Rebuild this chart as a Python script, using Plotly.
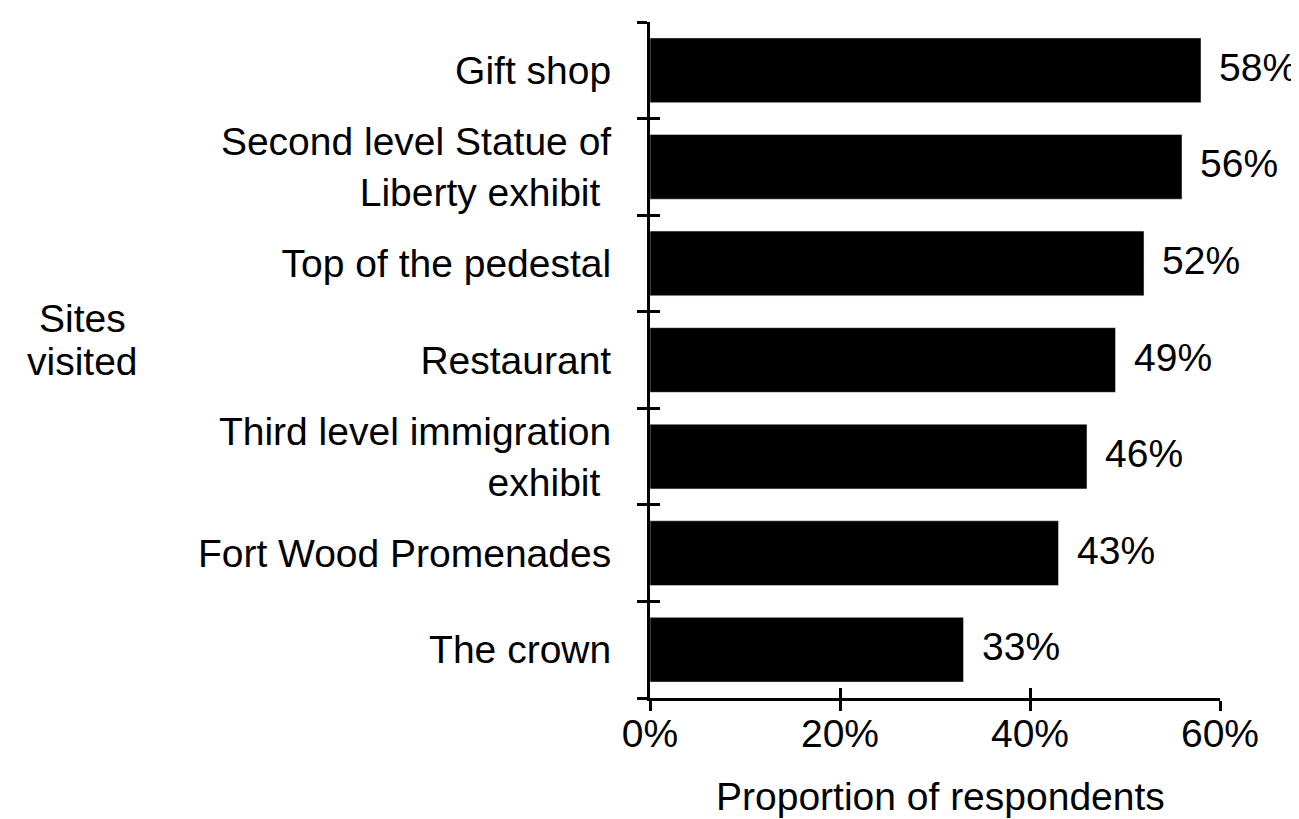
import plotly.graph_objects as go

# Data (top to bottom as in the reference)
sites = [
    "Gift shop",
    "Second level Statue of<br>Liberty exhibit ",
    "Top of the pedestal",
    "Restaurant",
    "Third level immigration<br>exhibit ",
    "Fort Wood Promenades",
    "The crown",
]
proportions = [58, 56, 52, 49, 46, 43, 33]
x_ticks = [0, 20, 40, 60]
x_tick_labels = ["0%", "20%", "40%", "60%"]

FONT = "Liberation Sans, Arial, Helvetica, sans-serif"
FS = 39

# bottom-to-top order for the category axis
cats = sites[::-1]
vals = proportions[::-1]

fig = go.Figure()
fig.add_trace(go.Bar(
    x=vals, y=cats, orientation="h",
    marker=dict(color="black", line=dict(width=0)),
    width=0.67, hoverinfo="skip", showlegend=False,
))
# invisible twin used only to draw the inner half of the crossing tick marks
fig.add_trace(go.Bar(
    x=vals, y=cats, orientation="h", xaxis="x2", yaxis="y2",
    marker=dict(color="rgba(0,0,0,0)"), width=0.67,
    hoverinfo="skip", showlegend=False,
))

for v, c in zip(vals, cats):
    fig.add_annotation(
        x=v, y=c, xref="x", yref="y", text=f"{v}%", showarrow=False,
        xanchor="left", yanchor="middle", xshift=16, yshift=3,
        font=dict(family=FONT, size=FS, color="black"),
    )

common_y = dict(
    categoryorder="array", categoryarray=cats, range=[-0.5, len(cats) - 0.5],
    tickson="boundaries", ticklen=10, tickwidth=3, tickcolor="black",
    showgrid=False, zeroline=False, fixedrange=True,
)
txt = dict(xref="paper", yref="paper", xanchor="center", yanchor="middle",
           showarrow=False, font=dict(family=FONT, size=FS, color="black"))
fig.update_layout(
    width=1291, height=811,
    margin=dict(l=642, r=79, t=14, b=121),
    paper_bgcolor="white", plot_bgcolor="white",
    font=dict(family=FONT, size=FS, color="black"),
    bargap=0.33,
    xaxis=dict(
        range=[0, 60], tickvals=x_ticks, ticktext=x_tick_labels,
        ticks="outside", ticklen=10, tickwidth=3, tickcolor="black",
        showline=True, linecolor="black", linewidth=3,
        showgrid=False, zeroline=False, ticklabelstandoff=-11,
        tickfont=dict(family=FONT, size=FS, color="black"),
    ),
    xaxis2=dict(
        overlaying="x", anchor="y2", side="bottom",
        range=[0, 60], tickvals=x_ticks, showticklabels=False,
        ticks="inside", ticklen=10, tickwidth=3, tickcolor="black",
        showline=False, showgrid=False, zeroline=False,
    ),
    yaxis=dict(
        ticks="outside", showline=True, linecolor="black", linewidth=3,
        ticklabelstandoff=28,
        tickfont=dict(family=FONT, size=FS, color="black"),
        **common_y,
    ),
    yaxis2=dict(
        overlaying="y", anchor="x2", side="left",
        ticks="inside", showticklabels=False, showline=False,
        **common_y,
    ),
    annotations=list(fig.layout.annotations) + [
        dict(text="Sites", x=(82 - 650) / 570, y=(698 - 318) / 676, **txt),
        dict(text="visited", x=(82 - 650) / 570, y=(698 - 361) / 676, **txt),
        dict(text="Proportion of respondents", x=(940 - 650) / 570,
             y=(698 - 796) / 676, **txt),
    ],
)

fig.write_html("out.html")
